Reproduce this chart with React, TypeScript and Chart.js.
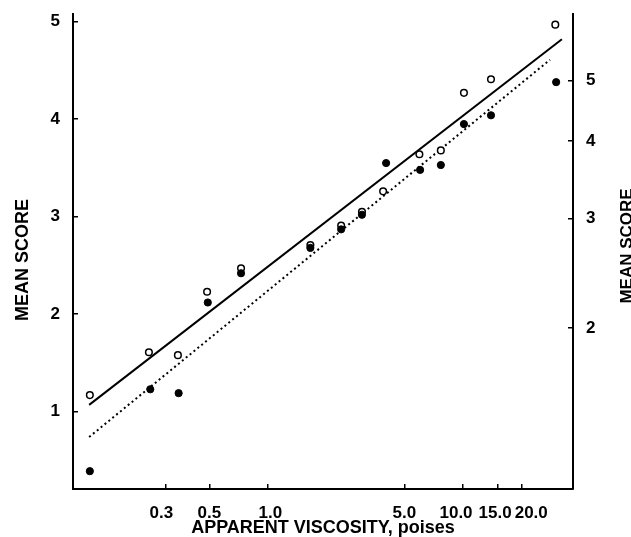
import React, { useEffect, useRef } from 'react';
import { Chart, registerables } from 'chart.js';

Chart.register(...registerables);

// Apparent viscosity (poises) and mean score, open circles
const openViscosity = [0.122, 0.245, 0.345, 0.487, 0.727, 1.648, 2.37, 3.03, 3.89, 5.97, 7.69, 10.1, 13.9, 29.7];
const openScore = [1.17, 1.61, 1.58, 2.23, 2.47, 2.71, 2.91, 3.05, 3.26, 3.64, 3.68, 4.27, 4.41, 4.97];

// Filled circles
const filledViscosity = [0.122, 0.249, 0.348, 0.491, 0.727, 1.648, 2.37, 3.03, 4.03, 6.02, 7.69, 10.1, 13.9, 30.0];
const filledScore = [0.39, 1.23, 1.19, 2.12, 2.42, 2.68, 2.87, 3.02, 3.55, 3.48, 3.53, 3.95, 4.04, 4.38];

// Fitted lines (end points)
const solidLineX = [0.121, 32.1];
const solidLineY = [1.07, 4.82];
const dottedLineX = [0.121, 27.9];
const dottedLineY = [0.74, 4.61];

// Axes
const xTickValues = [0.3, 0.5, 1, 5, 10, 15, 20];
const xTickLabels = ['0.3  ', '0.5', ' 1.0', '5.0', '10.0   ', '15.0 ', '    20.0'];
const leftTickValues = [1, 2, 3, 4, 5];
const rightTickValues = [2, 3, 4, 5];
const xTitle = 'APPARENT VISCOSITY, poises';
const yTitle = 'MEAN SCORE';

const FONT = '"Liberation Sans", Arial, Helvetica, sans-serif';

const sideTitlesPlugin = {
  id: 'sideTitles',
  afterDraw(chart: any) {
    const ctx = chart.ctx;
    ctx.save();
    ctx.fillStyle = '#000';
    ctx.textAlign = 'center';
    ctx.textBaseline = 'alphabetic';
    // left title
    ctx.save();
    ctx.translate(27.5, 260);
    ctx.rotate(-Math.PI / 2);
    ctx.font = `bold 18px ${FONT}`;
    ctx.fillText(yTitle, 0, 0);
    ctx.restore();
    // right title
    ctx.save();
    ctx.translate(chart.width + 0.5, 246);
    ctx.rotate(-Math.PI / 2);
    ctx.font = `bold 17px ${FONT}`;
    ctx.fillText(yTitle, 0, 0);
    ctx.restore();
    ctx.restore();
  },
};

export default function App() {
  const canvasRef = useRef<HTMLCanvasElement | null>(null);

  useEffect(() => {
    if (!canvasRef.current) return;
    const toPts = (xs: number[], ys: number[]) => xs.map((x, i) => ({ x, y: ys[i] }));
    const gridOpts = {
      drawOnChartArea: false,
      drawTicks: true,
      tickLength: -5,
      color: '#000',
      lineWidth: 1.5,
    };
    const borderOpts = { display: true, color: '#000', width: 2 };
    const tickFont = { family: FONT, size: 17, weight: 'bold' as const };

    const chart = new Chart(canvasRef.current, {
      type: 'scatter',
      data: {
        datasets: [
          {
            label: 'filled',
            data: toPts(filledViscosity, filledScore),
            pointStyle: 'circle',
            pointRadius: 3.6,
            pointBackgroundColor: '#000',
            pointBorderColor: '#000',
            pointBorderWidth: 1,
            showLine: false,
            order: 0,
            yAxisID: 'y',
          },
          {
            label: 'open',
            data: toPts(openViscosity, openScore),
            pointStyle: 'circle',
            pointRadius: 3.3,
            pointBackgroundColor: '#fff',
            pointBorderColor: '#000',
            pointBorderWidth: 1.5,
            showLine: false,
            order: 1,
            yAxisID: 'y',
          },
          {
            label: 'solid',
            data: toPts(solidLineX, solidLineY),
            showLine: true,
            pointRadius: 0,
            borderColor: '#000',
            borderWidth: 2,
            order: 2,
            yAxisID: 'y',
          },
          {
            label: 'dotted',
            data: toPts(dottedLineX, dottedLineY),
            showLine: true,
            pointRadius: 0,
            borderColor: '#000',
            borderWidth: 2,
            borderDash: [2, 3],
            order: 3,
            yAxisID: 'y',
          },
        ],
      },
      options: {
        animation: false,
        responsive: true,
        maintainAspectRatio: false,
        events: [],
        layout: { padding: { top: 14, left: 0, right: 0, bottom: 0 } },
        plugins: { legend: { display: false }, tooltip: { enabled: false } },
        scales: {
          x: {
            type: 'logarithmic',
            position: 'bottom',
            min: 0.1,
            max: 36.6,
            grid: gridOpts,
            border: borderOpts,
            afterBuildTicks: (scale: any) => {
              scale.ticks = xTickValues.map((v) => ({ value: v }));
            },
            afterFit: (scale: any) => {
              scale.height = 48;
              scale.paddingLeft = 0;
              scale.paddingRight = 0;
            },
            ticks: {
              autoSkip: false,
              maxRotation: 0,
              padding: 19,
              color: '#000',
              font: tickFont,
              callback: (_v: any, i: number) => xTickLabels[i],
            },
            title: {
              display: true,
              text: xTitle,
              color: '#000',
              font: { family: FONT, size: 18, weight: 'bold' },
              padding: { top: 0, bottom: -2 },
            },
          },
          y: {
            type: 'linear',
            position: 'left',
            min: 0.207,
            max: 5.079,
            grid: gridOpts,
            border: borderOpts,
            afterBuildTicks: (scale: any) => {
              scale.ticks = leftTickValues.map((v) => ({ value: v }));
            },
            afterFit: (scale: any) => {
              scale.width = 73;
              scale.paddingTop = 0;
              scale.paddingBottom = 0;
            },
            ticks: {
              padding: 18,
              color: '#000',
              font: tickFont,
              callback: (v: any) => String(v),
            },
          },
          y2: {
            type: 'logarithmic',
            position: 'right',
            min: 1.102,
            max: 6.4,
            grid: gridOpts,
            border: borderOpts,
            afterBuildTicks: (scale: any) => {
              scale.ticks = rightTickValues.map((v) => ({ value: v }));
            },
            afterFit: (scale: any) => {
              scale.width = 58;
              scale.paddingTop = 0;
              scale.paddingBottom = 0;
            },
            ticks: {
              padding: 18,
              color: '#000',
              font: tickFont,
              callback: (v: any) => String(v),
            },
          },
        },
      } as any,
      plugins: [sideTitlesPlugin],
    });
    return () => chart.destroy();
  }, []);

  return (
    <div style={{ position: 'fixed', left: 0, top: 0, width: 631, height: 537, background: '#fff' }}>
      <canvas ref={canvasRef} />
    </div>
  );
}
